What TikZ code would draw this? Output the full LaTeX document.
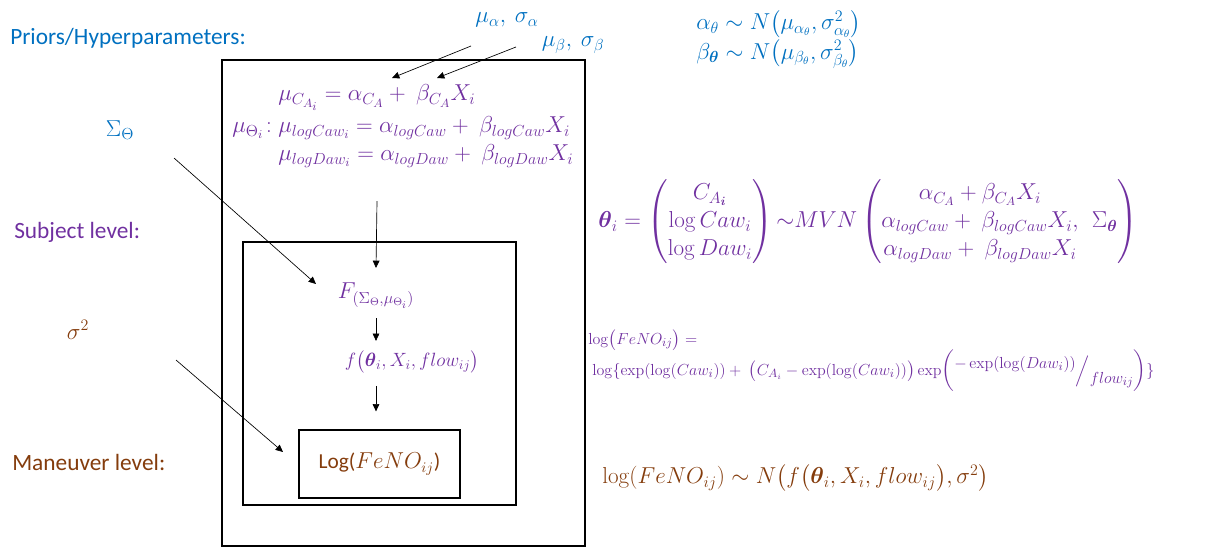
\documentclass[tikz,border=0pt]{standalone}
\usepackage{amsmath,amssymb}
\usepackage[no-math]{fontspec}
\setmainfont{Carlito}
\usetikzlibrary{arrows.meta,positioning,calc}
\definecolor{PriorBlue}{HTML}{0070C0}
\definecolor{SubjPurple}{HTML}{7030A0}
\definecolor{ManBrown}{HTML}{843C0C}

\begin{document}
\begin{tikzpicture}[
  x=0.75pt, y=-0.75pt,
  lbl/.style={font=\fontsize{17.5}{21}\selectfont, anchor=west, inner sep=0pt},
  eq/.style={font=\fontsize{17}{20}\selectfont, inner sep=0pt},
  plate/.style={draw=black, line width=0.9pt},
  arr/.style={-{Triangle[length=5.5pt,width=5pt]}, line width=0.5pt}
]
\useasboundingbox (0,0) rectangle (1219,547);

% plates
\draw[plate] (222,60) rectangle (585,546);
\draw[plate] (243,242) rectangle (516,505);
\node[plate, eq, minimum width=120.75pt, minimum height=51pt] (logbox) at (379.5,464)
  {\textcolor{ManBrown}{\fontsize{16}{19}\selectfont Log($FeNO_{ij}$)}};

% level labels
\node[lbl, text=PriorBlue] (priors) at (10,38) {Priors/Hyperparameters:};
\node[lbl, text=SubjPurple] (subj) at (14,232) {Subject level:};
\node[lbl, text=ManBrown] (maneuver) at (12,462) {Maneuver level:};

% hyperparameters
\node[eq, text=PriorBlue] (mua) at (507,20) {$\mu_\alpha,\ \sigma_\alpha$};
\node[eq, text=PriorBlue] (mub) at (573,45) {$\mu_\beta,\ \sigma_\beta$};
\node[eq, text=PriorBlue] (sigth) at (120,130) {$\Sigma_\Theta$};
\node[eq, text=ManBrown] (sig2) at (78,330) {$\sigma^2$};
\node[eq, text=PriorBlue, anchor=west] (priora) at (696,24)
  {$\alpha_\theta \sim N\bigl(\mu_{\alpha_\theta},\sigma^2_{\alpha_\theta}\bigr)$};
\node[eq, text=PriorBlue, anchor=west] (priorb) at (696,54)
  {$\beta_{\boldsymbol{\theta}} \sim N\bigl(\mu_{\beta_\theta},\sigma^2_{\beta_\theta}\bigr)$};

% subject-level means
\node[eq, text=SubjPurple, anchor=north west, font=\fontsize{17.4}{20}\selectfont] (mublock) at (232,82)
  {$\begin{array}{@{}r@{\;}l@{}}
   & \mu_{C_{A_i}} = \alpha_{C_A} + \ \beta_{C_A}X_i \\[4pt]
   \mu_{\Theta_i}\!: & \mu_{logCaw_i} = \alpha_{logCaw} + \ \beta_{logCaw}X_i \\[1pt]
   & \mu_{logDaw_i} = \alpha_{logDaw} + \ \beta_{logDaw}X_i
   \end{array}$};

\node[eq, text=SubjPurple] (F) at (376,296) {$F_{(\Sigma_\Theta,\mu_{\Theta_i})}$};
\node[eq, text=SubjPurple, font=\fontsize{14}{17}\selectfont] (f) at (412,362) {$f\bigl(\boldsymbol{\theta}_i,X_i,flow_{ij}\bigr)$};

% right-hand equations
\node[eq, text=SubjPurple, anchor=west, font=\fontsize{17.5}{20}\selectfont] (thetaeq) at (598,222)
  {\renewcommand{\arraystretch}{1.05}$\boldsymbol{\theta}_i=\begin{pmatrix} C_{A_{\boldsymbol{i}}}\\ \log Caw_i\\ \log Daw_i\end{pmatrix}
   {\sim} MVN\begin{pmatrix} \alpha_{C_A}+\beta_{C_A}X_i & \\ \alpha_{logCaw}+\ \beta_{logCaw}X_i, & \Sigma_{\boldsymbol{\theta}}\\ \alpha_{logDaw}+\ \beta_{logDaw}X_i & \end{pmatrix}$};
\node[eq, text=SubjPurple, anchor=west, font=\fontsize{13}{15}\selectfont] (logeq1) at (588,340)
  {$\log\bigl(FeNO_{ij}\bigr)=$};
\node[eq, text=SubjPurple, anchor=west, font=\fontsize{13}{15}\selectfont] (logeq2) at (592,371)
  {$\log\{\exp(\log(Caw_i))+\ \bigl(C_{A_i}-\exp(\log(Caw_i))\bigr)\exp\biggl(\raisebox{5pt}{$-\exp(\log(Daw_i))$}\Big/\raisebox{-6pt}{$flow_{ij}$}\biggr)\}$};
\node[eq, text=ManBrown, anchor=west, font=\fontsize{16.7}{19}\selectfont] (maneq) at (602,478)
  {$\log(FeNO_{ij})\sim N\bigl(f\bigl(\boldsymbol{\theta}_i,X_i,flow_{ij}\bigr),\sigma^2\bigr)$};

% connectors
\coordinate (muatail) at (471,46);
\coordinate (muahead) at (392,78);
\coordinate (mubtail) at (516,47);
\coordinate (mubhead) at (437,78);
\coordinate (sigtail) at (174,158);
\coordinate (sighead) at (316,284);
\coordinate (s2tail) at (176,360);
\coordinate (s2head) at (283,452);
\coordinate (mudown) at (377,201);
\coordinate (Fin) at (376,268);
\draw[arr] (muatail) -- (muahead);
\draw[arr] (mubtail) -- (mubhead);
\draw[arr] (sigtail) -- (sighead);
\draw[arr] (s2tail) -- (s2head);
\draw[arr] (mudown) -- (Fin);
\draw[arr, shorten <=7pt, shorten >=7pt] (F.south) -- (F.south |- f.north);
\draw[arr, shorten <=9pt, shorten >=13.5pt] (F.south |- f.south) -- (F.south |- logbox.north);
\end{tikzpicture}
\end{document}
